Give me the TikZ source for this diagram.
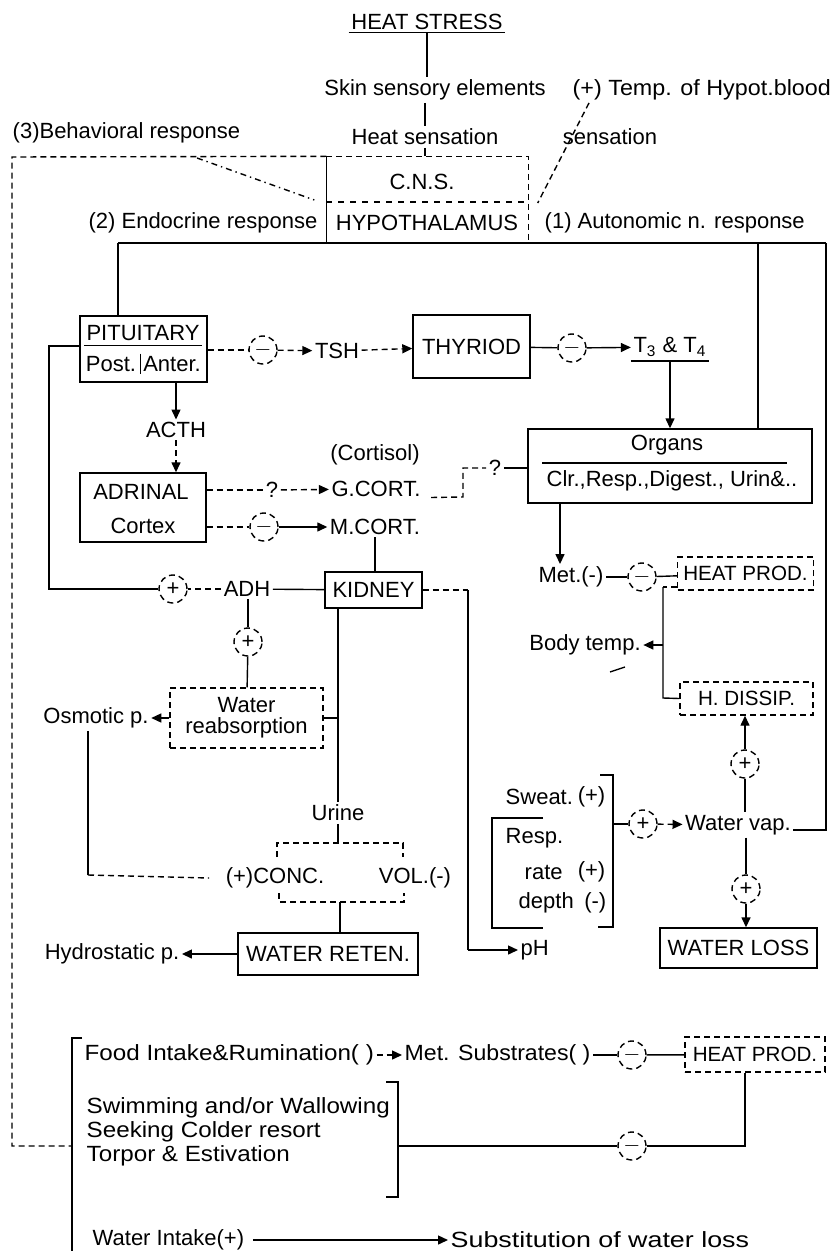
\documentclass[tikz,border=0pt]{standalone}
\usepackage{fontspec}
\usepackage{graphicx}
\setmainfont{Liberation Sans}
\usetikzlibrary{arrows.meta,calc}
\begin{document}
\begin{tikzpicture}[x=0.5pt,y=-0.5pt,
  font=\fontsize{11}{11}\selectfont, line width=0.7pt,
  tx/.style={inner sep=1pt},
  bx/.style={draw, inner sep=0pt},
  sm/.style={font=\fontsize{10.3}{10.3}\selectfont},
  pm/.style={draw, densely dashed, circle, minimum size=14pt, inner sep=0pt},
  arr/.style={-{Triangle[length=5pt,width=4.5pt]}},
  dsh/.style={densely dashed}]
\useasboundingbox (0,0) rectangle (832,1251);

% ---------- top ----------
\node[tx] (heat) at (427,22) {HEAT STRESS};
\draw (heat.south west) -- (heat.south east);
\node[tx] (skin) at (435,90) {Skin sensory elements};
\draw (heat.south) -- (heat.south |- skin.north);
\node[tx, anchor=west] (temp) at (570,90) {\scalebox{1.06}[1]{(+) Temp. of Hypot.blood}};
\node[tx] (hsens) at (425,137) {Heat sensation};
\draw (hsens.north |- skin.south) -- (hsens.north);
\node[tx] (sens) at (610,137) {sensation};
\node[tx, anchor=west] (behav) at (10,133) {(3)Behavioral response};

\node[minimum width=100.5pt, minimum height=43pt, inner sep=0pt] (cns) at (427.5,200) {};
\draw (cns.north west) -- (cns.south west);
\draw[dsh] (cns.north west) -- (cns.north east) -- (cns.south east);
\draw (hsens.south) -- (hsens.south |- cns.north);
\node[tx] (cnst) at (422,182) {C.N.S.};
\draw[dashed] ([yshift=-1pt]cns.west) -- ([yshift=-1pt]cns.east);
\node[tx] (hypo) at (427,223) {HYPOTHALAMUS};
\node[tx, anchor=east] (endo) at (320,223) {(2) Endocrine response};
\node[tx, anchor=west] (auto) at (542,223) {(1) Autonomic n. response};

\coordinate (tl) at (12,157);
\coordinate (lb) at (72,1146);
\draw[dsh] (cns.north west) -- (tl) -- (tl |- lb) -- (lb);
\coordinate (dd1) at (197,158);
\draw[dash dot] (dd1) -- ([xshift=-6pt]cns.west);
\draw[dsh] ([xshift=9.5pt]temp.south west) -- ([xshift=4.5pt,yshift=-1.5pt]cns.east);

\coordinate (hl) at (118,243);
\coordinate (hm) at (758,243);
\coordinate (hr) at (826,243);
\coordinate (wvr) at (826,830);
\draw[line width=0.6pt] (hl) -- (hr);

% ---------- endocrine ----------
\node[bx, minimum width=63.5pt, minimum height=33pt] (pit) at (143.5,349) {};
\draw (hl) -- (hl |- pit.north);
\node[tx] (pitt) at (143,333) {PITUITARY};
\draw ([yshift=-1pt]pitt.south west) -- ([yshift=-1pt]pitt.south east);
\node[tx] (post) at (111,364) {Post.};
\node[tx] (anter) at (172,364) {Anter.};
\draw ([xshift=1pt]post.north east) -- ([xshift=1pt]post.south east);

\node[pm] (m1) at (263,350) {$-$};
\draw[dsh] (pit.east |- m1) -- (m1);
\node[tx] (tsh) at (337,351) {TSH};
\draw[dsh, arr] (m1) -- (tsh);
\node[bx, minimum width=58.5pt, minimum height=31.5pt] (thy) at (471.5,346.5) {THYRIOD};
\draw[dsh, arr] (tsh) -- (thy);
\node[pm] (m2) at (572,348) {$-$};
\draw (thy) -- (m2);
\node[tx] (t34) at (670,347) {T\textsubscript{3} \& T\textsubscript{4}};
\draw[arr] (m2) -- (t34);
\draw ([yshift=-1pt]t34.south west) -- ([yshift=-1pt]t34.south east);

\node[bx, minimum width=142pt, minimum height=37pt] (org) at (670,466) {};
\draw[arr] ([yshift=-1pt]t34.south) -- (t34.south |- org.north);
\draw (hm) -- (hm |- org.north);
\node[tx] (orgt) at (667,445) {Organs};
\draw (542,463) -- (787,463);
\node[tx] (orgd) at (672,481) {Clr.,Resp.,Digest., Urin\&..};

\node[tx] (acth) at (176,430) {ACTH};
\draw[arr] (acth.north |- pit.south) -- (acth.north);
\node[bx, minimum width=63pt, minimum height=34.5pt] (adr) at (143,507.5) {};
\draw[dsh, arr] (acth.south) -- (acth.south |- adr.north);
\node[tx] (adrt) at (141,492) {ADRINAL};
\node[tx] (cortex) at (143,526) {Cortex};

\node[tx] (q1) at (272,490) {?};
\node[tx] (gc) at (376,489) {G.CORT.};
\node[tx] (cort) at (375,455) {(Cortisol)};
\draw[dsh] (adr.east |- q1) -- (q1);
\draw[dsh, arr] (q1) -- (gc);
\node[tx] (mc) at (375,527) {M.CORT.};
\node[pm] (m3) at (264,527) {$-$};
\draw[dsh] (adr.east |- m3) -- (m3);
\draw[arr] (m3) -- (mc);
\node[tx] (q2) at (495,468) {?};
\coordinate (gk1) at (463,497);
\draw[dsh] ([xshift=4pt,yshift=1pt]gc.south east) -- (gk1) -- (gk1 |- q2) -- (q2);
\draw (q2) -- (org.west |- q2);

\node[bx, minimum width=48.5pt, minimum height=18pt] (kid) at (373.5,590) {KIDNEY};
\draw (mc.south) -- (mc.south |- kid.north);
\node[tx] (adh) at (247,589) {ADH};
\draw (adh) -- (kid);
\node[pm] (p1) at (173,589) {+};
\draw[dsh] (adh) -- (p1);
\coordinate (lp1) at (49,589);
\coordinate (lp2) at (49,346);
\draw (p1) -- (lp1) -- (lp2) -- (lp2 -| pit.west);
\node[pm] (p2) at (248,642) {+};
\draw (adh.south -| p2) -- (p2);
\node[bx, dsh, minimum width=76.5pt, minimum height=30pt, align=center,
  font=\fontsize{11}{10.5}\selectfont] (wr) at (246.5,718) {Water\\reabsorption};
\draw (p2) -- (wr);
\node[tx] (osm) at (96,718) {Osmotic p.};
\draw[arr] (wr) -- (osm);

\node[tx] (urine) at (338,813) {Urine};
\draw (urine.north |- kid.south) -- (urine.north);
\draw (wr.east) -- (wr.east -| urine.north);
\coordinate (ub) at (338,843);
\draw (urine.south) -- (ub);
\draw[dsh] (277,857) -- (277,843) -- (403,843) -- (403,857);
\node[tx] (conc) at (275,878) {(+)CONC.};
\node[tx] (vol) at (415,878) {VOL.(-)};
\draw[dsh] (279,893) -- (279,902) -- (404,902) -- (404,893);
\node[bx, minimum width=90pt, minimum height=21pt] (wret) at (328,954) {WATER RETEN.};
\coordinate (bb) at (340,902);
\draw (bb) -- (bb |- wret.north);
\node[tx] (hyd) at (112,954) {Hydrostatic p.};
\draw[arr] (wret) -- (hyd);
\coordinate (o1) at (88,875);
\draw (osm.south -| o1) -- (o1);
\draw[dsh] (o1) -- ([xshift=-7pt]conc.west);

\coordinate (kp1) at (468,590);
\coordinate (kp2) at (468,950);
\node[tx, anchor=west] (ph) at (518,950) {pH};
\draw[dsh] (kid.east) -- (kp1);
\draw (kp1) -- (kp2);
\draw[arr] (kp2) -- (ph);

% ---------- autonomic ----------
\node[tx] (met) at (571,577) {Met.(-)};
\draw[arr] ([xshift=-55pt]org.south) -- ([xshift=-5.5pt]met.north);
\node[pm] (m4) at (642,577) {$-$};
\draw (met) -- (m4);
\node[bx, dsh, sm, minimum width=68pt, minimum height=16.5pt] (hp) at (745.5,573.5) {HEAT PROD.};
\draw (m4) -- (hp);
\node[bx, dsh, sm, minimum width=66.5pt, minimum height=16.5pt] (hdis) at (746.5,698.5) {H. DISSIP.};
\coordinate (hd1) at (663,587);
\coordinate (hd2) at (663,698);
\draw[dsh] ([yshift=-6.75pt]hp.west) -- (hd1);
\draw (hd1) -- (hd2) -- (hdis.west);
\node[tx] (bt) at (585,645) {Body temp.};
\draw[arr] (hd1 |- bt) -- (bt);
\draw (610,672) -- (625,667);

\node[pm] (p3) at (745,764) {+};
\draw[arr] (p3) -- (p3 |- hdis.south);
\node[tx] (wv) at (738,825) {Water vap.};
\draw (p3) -- (p3 |- wv.north);
\node[pm] (p4) at (746,889) {+};
\draw (wv.south -| p4) -- (p4);
\node[bx, minimum width=78.5pt, minimum height=20pt] (wl) at (738.5,948) {WATER LOSS};
\draw[arr] (p4) -- (p4 |- wl.north);
\draw (wv.east |- wvr) -- (wvr) -- (hr);

\coordinate (sbt) at (613,775);
\coordinate (sbb) at (613,927);
\draw (600,775) -- (sbt) -- (sbb) -- (598,927);
\draw (543,818) -- (492,818) -- (492,928) -- (543,928);
\node[tx, anchor=west] (sweat) at (503,797) {Sweat.};
\node[tx, anchor=east] (swp) at (608,797) {(+)};
\node[tx, anchor=west] (resp) at (503,838) {Resp.};
\node[tx, anchor=west] (rate) at (522,872) {rate};
\node[tx, anchor=east] (ratep) at (608,872) {(+)};
\node[tx, anchor=west] (depth) at (516,903) {depth};
\node[tx, anchor=east] (depthm) at (609,903) {(-)};
\node[pm] (p5) at (643,824) {+};
\draw (sbt |- p5) -- (p5);
\draw[dsh, arr] (p5) -- (wv);

% ---------- behavioural ----------
\coordinate (brt) at (72,1038);
\coordinate (brb) at (72,1251);
\draw (82,1038) -- (brt) -- (brb);
\node[tx, anchor=west] (food) at (82,1055) {\scalebox{1.1}[1]{Food Intake\&Rumination( )}};
\node[tx, anchor=west] (msub) at (402,1055) {\scalebox{1.05}[1]{Met. Substrates( )}};
\draw[dsh, arr] (food) -- (msub);
\node[pm] (m5) at (632,1055) {$-$};
\draw (msub) -- (m5);
\node[bx, dsh, sm, minimum width=70pt, minimum height=17.5pt] (hp2) at (755,1054.5) {HEAT PROD.};
\draw (m5) -- (hp2);
\node[tx, anchor=west] (swim) at (84,1108) {\scalebox{1.1}[1]{Swimming and/or Wallowing}};
\node[tx, anchor=west] (seek) at (84,1132) {\scalebox{1.1}[1]{Seeking Colder resort}};
\node[tx, anchor=west] (torp) at (84,1156) {\scalebox{1.1}[1]{Torpor \& Estivation}};
\coordinate (rb) at (398,1146);
\draw (386,1082) -- (398,1082) -- (398,1197) -- (386,1197);
\node[pm] (m6) at (632,1146) {$-$};
\coordinate (r6) at (745,1146);
\draw (rb) -- (m6) -- (r6) -- (r6 |- hp2.south);
\node[tx, anchor=west] (wi) at (90,1240) {Water Intake(+)};
\node[tx, anchor=west] (subst) at (448,1240) {\scalebox{1.22}[1]{Substitution of water loss}};
\draw[arr] ([xshift=3pt]wi.east) -- (subst.west);
\end{tikzpicture}
\end{document}
